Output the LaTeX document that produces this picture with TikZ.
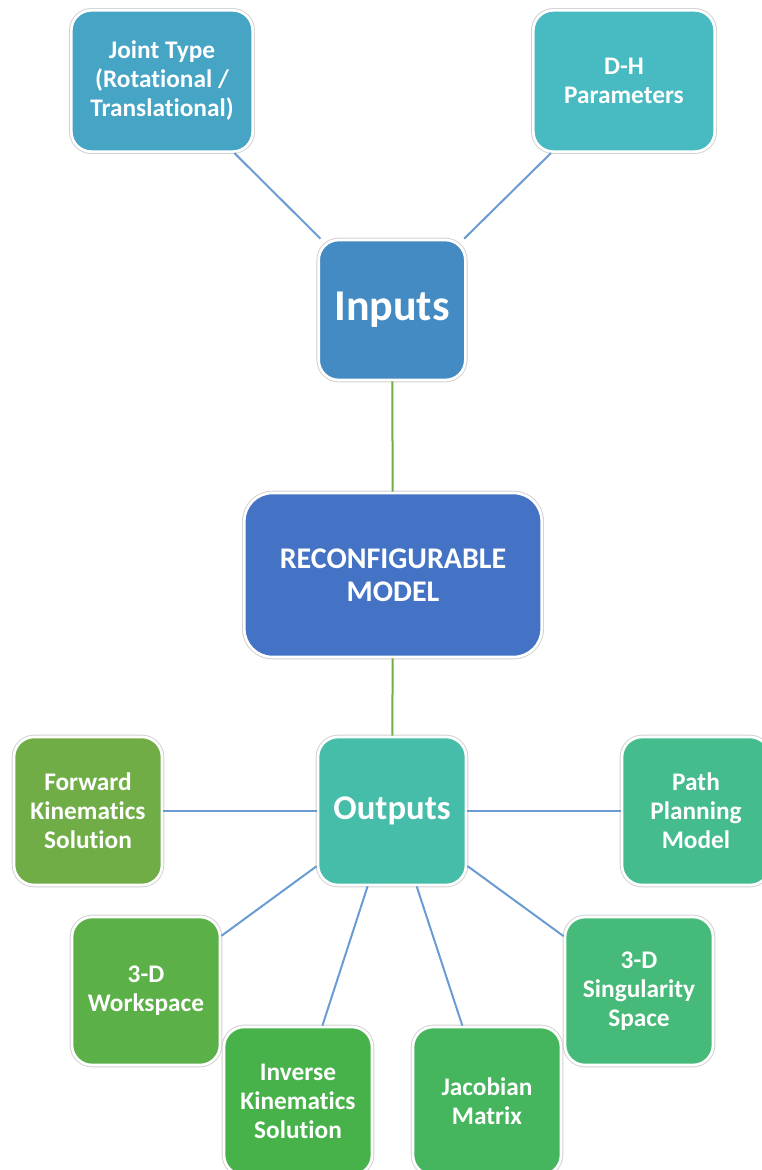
\documentclass[tikz,border=0pt]{standalone}
\usepackage{fontspec}
\setmainfont{Carlito}[Ligatures=NoCommon]
\definecolor{jointcol}{HTML}{46A4C4}
\definecolor{dhcol}{HTML}{47BAC2}
\definecolor{inputcol}{HTML}{438BC2}
\definecolor{modelcol}{HTML}{4472C4}
\definecolor{outputcol}{HTML}{45BDA9}
\definecolor{fkcol}{HTML}{70AD47}
\definecolor{wscol}{HTML}{5BB047}
\definecolor{ikcol}{HTML}{47B24A}
\definecolor{jmcol}{HTML}{45B65D}
\definecolor{sscol}{HTML}{46BA78}
\definecolor{ppcol}{HTML}{45BC8D}
\definecolor{linkblue}{HTML}{6A9BD2}
\definecolor{linkgreen}{HTML}{70AD47}
\tikzset{
    smartbox/.style={rectangle, rounded corners=15pt, draw=white, line width=2pt,
        preaction={draw=black!18, line width=3.4pt},
        text=white, align=center, inner sep=0pt,
        font=\bfseries\fontsize{19}{21.75}\selectfont,
        minimum width=111pt, minimum height=111pt},
    bluelink/.style={draw=linkblue, line width=1.5pt},
    greenlink/.style={draw=linkgreen, line width=1.5pt}
}
\begin{document}
\begin{tikzpicture}[x=0.75pt,y=-0.75pt]
                \useasboundingbox (0,0) rectangle (762,1170);
                \node[smartbox, fill=jointcol, minimum width=136pt, minimum height=106pt] (joint) at (162,81) {Joint Type\\(Rotational /\\Translational)};
                \node[smartbox, fill=dhcol, minimum width=136pt, minimum height=106pt] (dh) at (624,81) {D-H\\Parameters};
                \node[smartbox, fill=inputcol, minimum width=110pt, minimum height=105pt, font=\bfseries\fontsize{33}{38}\selectfont] (inputs) at (392,310) {Inputs};
                \node[smartbox, fill=modelcol, rounded corners=21pt, minimum width=223pt, minimum height=123pt, font=\bfseries\fontsize{22.5}{24.75}\selectfont] (model) at (393,575) {RECONFIGURABLE\\MODEL};
                \node[smartbox, fill=outputcol, font=\bfseries\fontsize{26}{30}\selectfont] (outputs) at (392,811) {Outputs};
                \node[smartbox, fill=fkcol] (forward) at (88,811) {Forward\\Kinematics\\Solution};
                \node[smartbox, fill=ppcol] (path) at (696,811) {Path\\Planning\\Model};
                \node[smartbox, fill=wscol] (workspace) at (146,991) {3-D\\Workspace};
                \node[smartbox, fill=ikcol] (inverse) at (298,1101) {Inverse\\Kinematics\\Solution};
                \node[smartbox, fill=jmcol] (jacobian) at (487,1101) {Jacobian\\Matrix};
                \node[smartbox, fill=sscol] (singular) at (639,991) {3-D\\Singularity\\Space};
                \draw[bluelink] (joint) -- (inputs);
                \draw[bluelink] (dh) -- (inputs);
                \draw[greenlink] (inputs) -- (model);
                \draw[greenlink] (model) -- (outputs);
                \draw[bluelink] (outputs) -- (forward);
                \draw[bluelink] (outputs) -- (path);
                \draw[bluelink] (outputs) -- (workspace);
                \draw[bluelink] (outputs) -- (inverse);
                \draw[bluelink] (outputs) -- (jacobian);
                \draw[bluelink] (outputs) -- (singular);
            \end{tikzpicture}
\end{document}
